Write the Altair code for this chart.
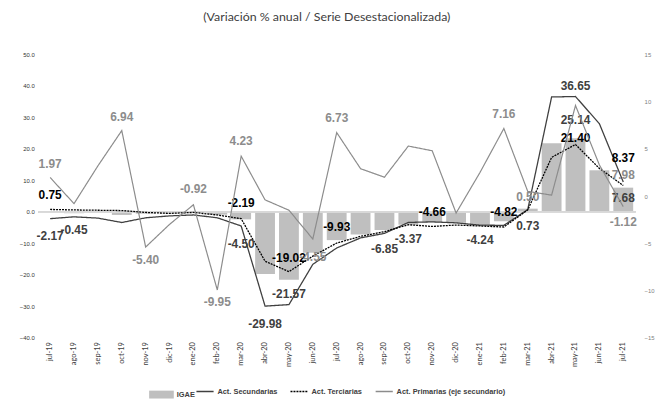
import altair as alt
import pandas as pd

# ---------------- data ----------------
months = ["jul-19", "ago-19", "sep-19", "oct-19", "nov-19", "dic-19", "ene-20", "feb-20",
          "mar-20", "abr-20", "may-20", "jun-20", "jul-20", "ago-20", "sep-20", "oct-20",
          "nov-20", "dic-20", "ene-21", "feb-21", "mar-21", "abr-21", "may-21", "jun-21", "jul-21"]

igae = [-0.2, -0.45, -0.3, -1.0, -0.6, -0.5, -0.4, -0.9, -2.4, -19.8, -21.57, -13.0, -9.0,
        -7.2, -5.8, -4.1, -3.3, -3.5, -4.1, -3.0, 1.0, 21.8, 23.4, 13.2, 7.68]

secundarias = [-2.17, -1.6, -2.0, -3.4, -1.9, -1.3, -1.0, -1.9, -4.50, -29.98, -29.5, -16.7,
               -11.5, -8.3, -6.85, -3.37, -3.2, -3.5, -4.24, -4.3, 0.73, 36.5, 36.65, 28.0, 9.5]

terciarias = [0.75, 0.6, 0.5, 0.4, -0.2, -0.5, -0.2, -1.0, -2.19, -15.7, -19.02, -14.1,
              -9.93, -7.8, -6.3, -4.1, -4.66, -4.2, -4.5, -4.82, 0.6, 17.3, 21.40, 13.8, 8.37]

primarias = [1.97, -0.8, 3.2, 6.94, -5.40, -3.0, -0.92, -9.95, 4.23, -0.4, -1.5, -4.55,
             6.73, 2.9, 2.0, 5.3, 4.8, -1.8, 2.5, 7.16, 0.50, 0.1, 9.6, 3.3, -1.12]

series_names = ["IGAE", "Act. Secundarias", "Act. Terciarias", "Act. Primarias (eje secundario)"]

left_ticks = [-40, -30, -20, -10, 0, 10, 20, 30, 40, 50]
right_ticks = [-15, -10, -5, 0, 5, 10, 15]

# data labels on the left axis: text, month, series they belong to
left_lbl_text = ["0.75", "-2.17", "-0.45", "-2.19", "-4.50", "-29.98", "-19.02", "-21.57",
                 "-9.93", "-6.85", "-3.37", "-4.66", "-4.24", "-4.82", "0.73", "36.65",
                 "25.14", "21.40", "8.37", "7.98", "7.68"]
left_lbl_month = ["jul-19", "jul-19", "ago-19", "mar-20", "mar-20", "abr-20", "may-20", "may-20",
                  "jul-20", "sep-20", "oct-20", "nov-20", "ene-21", "feb-21", "mar-21", "may-21",
                  "may-21", "may-21", "jul-21", "jul-21", "jul-21"]
left_lbl_series = ["ter", "sec", "igae", "ter", "sec", "sec", "ter", "igae",
                   "ter", "sec", "sec", "ter", "sec", "ter", "sec", "sec",
                   "igae", "ter", "ter", "sec", "igae"]

# data labels of the secondary series
right_lbl_text = ["1.97", "6.94", "-5.40", "-0.92", "-9.95", "4.23", "-4.55", "6.73",
                  "7.16", "0.50", "-1.12"]
right_lbl_month = ["jul-19", "oct-19", "nov-19", "ene-20", "feb-20", "mar-20", "jun-20",
                   "jul-20", "feb-21", "mar-21", "jul-21"]

# ---------------- layout / style ----------------
W, H = 603, 286
LEFT_DOMAIN = [-40, 50]
RIGHT_DOMAIN = [-15, 15]
ppu_left = H / (LEFT_DOMAIN[1] - LEFT_DOMAIN[0])
ppu_right = H / (RIGHT_DOMAIN[1] - RIGHT_DOMAIN[0])

left_lbl_dy = [-15, 18, 17, -16, 18, 18, -14, 15, -16, 16, 17, -15, 15, -15, 17, -11,
               -18, -7, -28, -7, 10]
BLACK, DARK, GRAY = "#000000", "#404040", "#8c8c8c"
left_lbl_color = [BLACK, DARK, DARK, BLACK, DARK, DARK, BLACK, DARK, BLACK, DARK, DARK,
                  BLACK, DARK, BLACK, DARK, DARK, DARK, BLACK, BLACK, GRAY, DARK]
right_lbl_dy = [-14, -14, 13, -16, 12, -15, 18, -15, -15, 6, 16]

FONT = "Liberation Sans"
TFONT = "Lato"

# ---------------- frames ----------------
base = pd.DataFrame({"mes": months, "igae": igae, "sec": secundarias,
                     "ter": terciarias, "pri": primarias})
base["serie_bar"] = "IGAE"

lines_left = pd.concat([
    pd.DataFrame({"mes": months, "valor": secundarias, "serie": series_names[1]}),
    pd.DataFrame({"mes": months, "valor": terciarias, "serie": series_names[2]}),
])
lines_right = pd.DataFrame({"mes": months, "valor": primarias, "serie": series_names[3]})

lookup = {"igae": dict(zip(months, igae)), "sec": dict(zip(months, secundarias)),
          "ter": dict(zip(months, terciarias))}
lbl_left = pd.DataFrame({
    "mes": left_lbl_month,
    "texto": left_lbl_text,
    "color": left_lbl_color,
    "y": [lookup[s][m] - dy / ppu_left
          for s, m, dy in zip(left_lbl_series, left_lbl_month, left_lbl_dy)],
})
prim_lookup = dict(zip(months, primarias))
lbl_right = pd.DataFrame({
    "mes": right_lbl_month,
    "texto": right_lbl_text,
    "y": [prim_lookup[m] - dy / ppu_right for m, dy in zip(right_lbl_month, right_lbl_dy)],
})

# ---------------- encodings ----------------
x_enc = alt.X("mes:N", sort=months,
              scale=alt.Scale(paddingInner=0.17, paddingOuter=0.085),
              axis=alt.Axis(title=None, labelAngle=-90, domain=False, ticks=False,
                            labelOverlap=False, labelPadding=4, labelFont=TFONT,
                            labelFontSize=7.5, labelColor="#404040"))

left_scale = alt.Scale(domain=LEFT_DOMAIN, nice=False, zero=False)
left_axis = alt.Axis(title=None, values=left_ticks, format=".1f", tickCount=10,
                     domain=False, ticks=False, grid=False, labelPadding=4,
                     labelOverlap=False, labelFont=FONT, labelFontSize=6,
                     labelColor="#333333")
right_scale = alt.Scale(domain=RIGHT_DOMAIN, nice=False, zero=False)
right_axis = alt.Axis(title=None, orient="right", values=right_ticks, tickCount=7,
                      domain=False, ticks=False, grid=False, labelPadding=9,
                      labelOverlap=False, labelFont=FONT, labelFontSize=6,
                      labelColor="#808080")

stroke_scale = alt.Scale(domain=series_names[1:], range=["#404040", "#000000", "#8c8c8c"])
dash_scale = alt.Scale(domain=series_names[1:], range=[[1, 0], [2, 1], [1, 0]])
line_legend = alt.Legend(title=None, orient="none", legendX=159, legendY=331,
                         direction="horizontal", symbolType="stroke", symbolSize=300,
                         symbolStrokeWidth=1.5, labelFont=FONT, labelFontSize=7.5,
                         labelFontWeight="bold", labelColor="#404040", columnPadding=9,
                         labelOffset=3)

# ---------------- layers ----------------
bars = alt.Chart(base).mark_bar().encode(
    x=x_enc,
    y=alt.Y("igae:Q", scale=left_scale, axis=left_axis),
    fill=alt.Fill("serie_bar:N", scale=alt.Scale(domain=["IGAE"], range=["#bfbfbf"]),
                  legend=alt.Legend(title=None, orient="none", legendX=112, legendY=331,
                                    symbolType="M-1,-0.32L1,-0.32L1,0.32L-1,0.32Z",
                                    symbolSize=620, symbolStrokeWidth=0,
                                    labelFont=FONT, labelFontSize=7.5,
                                    labelFontWeight="bold", labelColor="#404040",
                                    labelOffset=3)),
)

zero_rule = alt.Chart(base).mark_rule(color="#d9d9d9", strokeWidth=1).encode(
    y=alt.datum(0, scale=left_scale, axis=left_axis))

lines_l = alt.Chart(lines_left).mark_line(strokeWidth=1.3).encode(
    x=x_enc,
    y=alt.Y("valor:Q", scale=left_scale, axis=left_axis),
    stroke=alt.Stroke("serie:N", scale=stroke_scale, legend=line_legend),
    strokeDash=alt.StrokeDash("serie:N", scale=dash_scale, legend=line_legend),
)

text_l = alt.Chart(lbl_left).mark_text(font=FONT, fontSize=12, fontWeight="bold",
                                        baseline="middle", align="center").encode(
    x=x_enc,
    y=alt.Y("y:Q", scale=left_scale, axis=left_axis),
    text="texto:N",
    color=alt.Color("color:N", scale=None),
)

lines_r = alt.Chart(lines_right).mark_line(strokeWidth=1.2).encode(
    x=x_enc,
    y=alt.Y("valor:Q", scale=right_scale, axis=right_axis),
    stroke=alt.Stroke("serie:N", scale=stroke_scale, legend=line_legend),
    strokeDash=alt.StrokeDash("serie:N", scale=dash_scale, legend=line_legend),
)

text_r = alt.Chart(lbl_right).mark_text(font=FONT, fontSize=12, fontWeight="bold",
                                         baseline="middle", align="center",
                                         color=GRAY).encode(
    x=x_enc,
    y=alt.Y("y:Q", scale=right_scale, axis=right_axis),
    text="texto:N",
)

left = alt.layer(bars, zero_rule, lines_l, text_l)
right = alt.layer(lines_r, text_r)

chart = alt.layer(left, right).resolve_scale(y="independent").properties(
    width=W, height=H,
    title=alt.TitleParams("(Variación % anual / Serie Desestacionalizada)",
                          font=TFONT, fontSize=12.5, fontWeight="normal",
                          color="#404040", anchor="middle", offset=28, dx=-10),
    autosize=alt.AutoSizeParams(type="none"),
    padding={"left": 30.5, "top": 45, "right": 20, "bottom": 61},
).configure_view(stroke=None).configure_axis(grid=False)

chart.save("out.html", embed_options={"renderer": "svg", "actions": False})
